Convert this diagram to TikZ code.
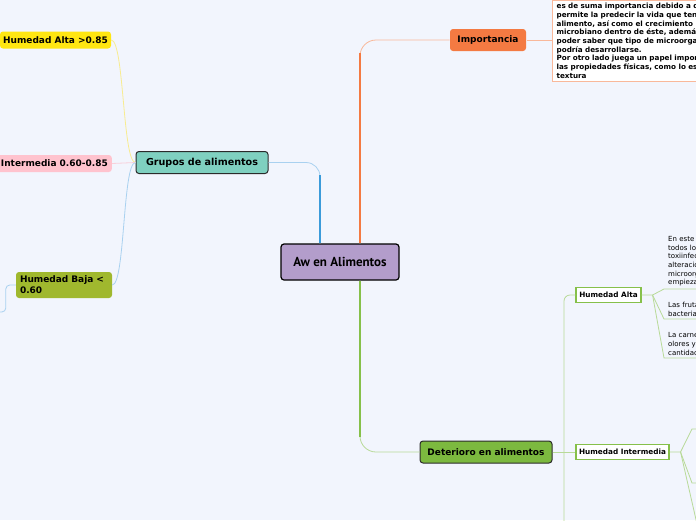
\documentclass[tikz,border=0pt]{standalone}
\usepackage{fontspec}
\setmainfont{DejaVu Sans}
\newfontfamily\awTitleFont{PT Sans}
\usetikzlibrary{positioning, calc, backgrounds}
\definecolor{awBg}{HTML}{F2F5FD}
\definecolor{awMainF}{HTML}{B39DCB}
\definecolor{awDarkS}{HTML}{2B2B2B}
\definecolor{awGrupF}{HTML}{7FD0C0}
\definecolor{awImpF}{HTML}{F47A42}
\definecolor{awDetF}{HTML}{7CB93F}
\definecolor{awAltaF}{HTML}{FFE612}
\definecolor{awInterF}{HTML}{FFC3CE}
\definecolor{awBajaF}{HTML}{A0B82E}
\definecolor{awBlueS}{HTML}{3B9BDA}
\definecolor{awBlueL}{HTML}{A9D1F0}
\definecolor{awOrangeS}{HTML}{F47A42}
\definecolor{awOrangeL}{HTML}{F9B89A}
\definecolor{awGreenS}{HTML}{86C04A}
\definecolor{awGreenL}{HTML}{B8DA98}
\definecolor{awYellowL}{HTML}{F8EC90}
\definecolor{awPinkL}{HTML}{F9D0DA}
\tikzset{
  awBase/.style={rectangle, rounded corners=3pt, align=center, inner sep=0pt,
                 font=\bfseries\fontsize{9}{11}\selectfont, text=black},
  awMain/.style={awBase, draw=black, fill=awMainF, line width=1.2pt,
                 minimum width=118pt, minimum height=36pt,
                 font=\awTitleFont\bfseries\fontsize{13}{15}\selectfont},
  awTopic/.style={awBase, minimum height=22pt, line width=1pt},
  awSub/.style={awBase, minimum height=17pt},
  awLeafBox/.style={awBase, rounded corners=0pt, draw=awGreenS, fill=white, line width=1.1pt,
                    minimum height=15pt, font=\bfseries\fontsize{7.3}{9}\selectfont},
  awLeaf/.style={anchor=south west, inner xsep=4pt, inner ysep=2.5pt, text width=60pt,
                 align=left, font=\fontsize{7}{8.7}\selectfont},
  awNote/.style={anchor=south west, draw=awOrangeL, fill=white, line width=1.3pt,
                 inner xsep=4pt, inner ysep=3pt, text width=190pt, align=left,
                 font=\bfseries\fontsize{7.2}{8.7}\selectfont},
  awLink/.style={line width=0.8pt},
  awTrunk/.style={line width=2.2pt},
}

\begin{document}
\begin{tikzpicture}[x=1pt, y=-1pt]
  \useasboundingbox[fill=awBg] (0,0) rectangle (696,520);

  % central topic and the three main branches
  \node[awMain] (aw) at (340,262) {Aw en Alimentos};
  \node[awTopic, draw=awDarkS, fill=awGrupF, minimum width=132pt,
        font=\bfseries\fontsize{9.6}{11}\selectfont] (grupos) at (202,162.5) {Grupos de alimentos};
  \node[awTopic, fill=awImpF, minimum width=76pt] (imp) at (488,40) {Importancia};
  \node[awTopic, draw=awDarkS, fill=awDetF, minimum width=132pt] (det) at (486,452) {Deterioro en alimentos};

  % connectors from the centre, thick near the root
  \draw[awLink, awBlueL, rounded corners=14pt] ([xshift=-20pt]aw.north) |- (grupos.east);
  \draw[awTrunk, awBlueS] ([xshift=-20pt]aw.north) -- ++(0,-68);
  \draw[awLink, awOrangeL, rounded corners=16pt] ([xshift=20pt]aw.north) |- (imp.west);
  \draw[awTrunk, awOrangeS] ([xshift=20pt]aw.north) -- ++(0,-190);
  \draw[awLink, awGreenL, rounded corners=16pt] ([xshift=20pt]aw.south) |- (det.west);
  \draw[awTrunk, awGreenS] ([xshift=20pt]aw.south) -- ++(0,156);

  % ─── Grupos de alimentos ───────────────────────────────
  \node[awSub, fill=awAltaF, minimum width=111pt] (alta) at (55.5,40) {Humedad Alta >0.85};
  \node[awSub, fill=awInterF, anchor=east, minimum width=124pt, text width=116pt, align=right] (inter) at (112,163.5) {Intermedia 0.60-0.85};
  \node[awSub, fill=awBajaF, minimum width=96pt, minimum height=26pt, text width=88pt, align=left] (baja) at (64,285) {Humedad Baja <\\0.60};

  \draw[awLink, awYellowL] (grupos.west) .. controls +(-13,0) and +(13,0) .. (alta.east);
  \draw[awLink, awPinkL] (grupos.west) -- (inter.east);
  \draw[awLink, awBlueL] (grupos.west) .. controls +(-13,0) and +(13,0) .. (baja.east);
  \coordinate (bajaOff) at (-6,312);
  \draw[awLink, awBlueL, rounded corners=4pt] (baja.west) -- ++(-10,0) |- (bajaOff);

  % ─── Importancia ───────────────────────────────────────
  \node[awNote] (note) at (552,82) {es de suma importancia debido a que\\
    permite la predecir la vida que tendrá el\\
    alimento, así como el crecimiento\\
    microbiano dentro de éste, además de\\
    poder saber que tipo de microorganismos\\
    podría desarrollarse.\\
    Por otro lado juega un papel importante en\\
    las propiedades físicas, como lo es la\\
    textura};
  \draw[awLink, awOrangeL] (imp.east) -- (note.west |- imp.east);

  % ─── Deterioro en alimentos ────────────────────────────
  \node[awLeafBox, minimum width=65pt] (ralta) at (608.5,295) {Humedad Alta};
  \node[awLeafBox, minimum width=93pt] (rinter) at (622.5,452) {Humedad Intermedia};
  \coordinate (trunkEnd) at (564,530);
  \draw[awLink, awGreenL, rounded corners=6pt] (ralta.west) -| (trunkEnd);
  \draw[awLink, awGreenL] (det.east) -- (rinter.west);

  \node[awLeaf] (l1) at (664,289) {En este\\todos los\\toxiinfecciones\\alteraciones\\microorganismos\\empiezan};
  \node[awLeaf] (l2) at (664,319) {Las frutas\\bacterias};
  \node[awLeaf] (l3) at (664,358) {La carne\\olores y\\cantidad};
  \draw[awLink, awGreenL] (ralta.east) -- ++(11,0) coordinate (aj) -- (l1.south west) -- (l1.south east);
  \draw[awLink, awGreenL] (aj) -- (l2.south west) -- (l2.south east);
  \draw[awLink, awGreenL] (aj) -- (l3.south west) -- (l3.south east);

  \coordinate (i1) at (700,429);
  \coordinate (i2) at (700,483);
  \coordinate (i3) at (697,524);
  \draw[awLink, awGreenL] (rinter.east) -- ++(11,0) coordinate (ij) -- (692,429) -- (i1);
  \draw[awLink, awGreenL] (ij) -- (692,483) -- (i2);
  \draw[awLink, awGreenL] (ij) -- (i3);
\end{tikzpicture}
\end{document}
